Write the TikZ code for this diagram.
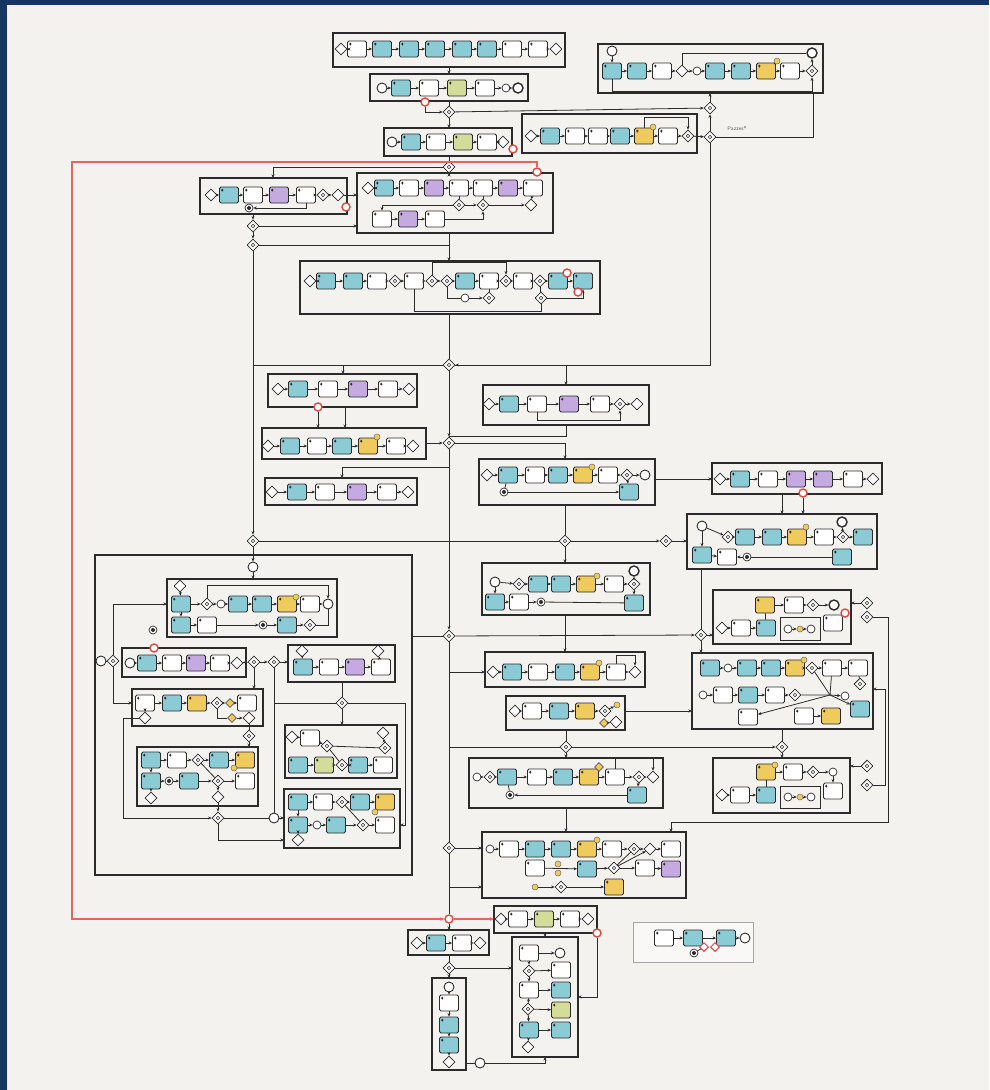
\documentclass[tikz,border=0pt]{standalone}
\usepackage{tikz}
\usetikzlibrary{shapes.geometric,arrows.meta}
\definecolor{ink}{HTML}{2B2B2B}
\definecolor{paper}{HTML}{F3F2EE}
\definecolor{frame}{HTML}{163562}
\definecolor{bteal}{HTML}{8BCBD5}
\definecolor{bpurple}{HTML}{C5AAE2}
\definecolor{byellow}{HTML}{EFCA5C}
\definecolor{bgreen}{HTML}{D4DC9A}
\definecolor{evred}{HTML}{E0463F}
\definecolor{redflow}{HTML}{E2665D}

% pool box from its corners
\newcommand{\pool}[6][pool]{%
  \node[#1, minimum width={#5pt-#3pt}, minimum height={#6pt-#4pt}] (#2) at ({(#3+#5)/2},{(#4+#6)/2}) {};}
% row of flow objects, chained left to right
\newcommand{\flowrow}[3]{%
  \foreach \rx/\rs [count=\rk] in {#3} {%
    \node[\rs] (#1\rk) at (\rx,#2) {};
    \ifnum\rk>1 \pgfmathtruncatemacro\rj{\rk-1}\draw[seq] (#1\rj) -- (#1\rk);\fi}}

\begin{document}
\begin{tikzpicture}[x=1pt,y=-1pt,
  task/.style={draw=ink,line width=0.8pt,rounded corners=1.5pt,minimum width=19pt,minimum height=16pt,inner sep=0pt,
    path picture={\fill[ink] ([xshift=1.5pt,yshift=-1.5pt]path picture bounding box.north west) rectangle ++(2.5pt,-3pt);}},
  tw/.style={task,fill=white},
  tt/.style={task,fill=bteal},
  tp/.style={task,fill=bpurple},
  ty/.style={task,fill=byellow},
  tg/.style={task,fill=bgreen},
  gw/.style={diamond,draw=ink,fill=white,line width=0.8pt,minimum size=12pt,inner sep=0pt},
  gwm/.style={gw,path picture={\draw[ink,line width=0.6pt] (path picture bounding box.center) circle (1.8pt);}},
  gy/.style={diamond,draw=ink!80,fill=byellow,line width=0.6pt,minimum size=9pt,inner sep=0pt},
  gr/.style={diamond,draw=evred,fill=white,line width=1pt,minimum size=9pt,inner sep=0pt},
  ev/.style={circle,draw=ink,fill=white,line width=0.9pt,minimum size=10pt,inner sep=0pt},
  evi/.style={circle,draw=ink,fill=white,line width=0.7pt,minimum size=8pt,inner sep=0pt},
  eve/.style={ev,line width=1.4pt},
  evd/.style={evi,path picture={\fill[ink] (path picture bounding box.center) circle (2pt);}},
  evr/.style={circle,draw=evred,fill=white,line width=1.4pt,minimum size=8pt,inner sep=0pt},
  ey/.style={circle,draw=ink!70,fill=byellow,line width=0.5pt,minimum size=6pt,inner sep=0pt},
  pool/.style={draw=ink,line width=1.1pt,inner sep=0pt,outer sep=0pt},
  subpool/.style={draw=ink,line width=0.7pt,inner sep=0pt,outer sep=0pt},
  legendbox/.style={draw=black!35,line width=0.6pt,fill=white!50!paper,inner sep=0pt,outer sep=0pt},
  seq/.style={draw=ink,line width=0.8pt,-{Stealth[length=3.5pt,width=3pt]}},
  wire/.style={draw=ink,line width=0.8pt},
  redseq/.style={draw=redflow,line width=1.1pt,-{Stealth[length=4pt,width=3.5pt]}},
  lbl/.style={font=\sffamily\fontsize{5.5}{6}\selectfont,text=ink!75,inner sep=0.5pt}]
  \fill[frame] (0,0) rectangle (989,1090);
  \fill[paper] (7,5) rectangle (989,1090);
  \useasboundingbox (0,0) rectangle (989,1090);

  % pools
  \pool{pA}{333}{33}{565}{67}
  \pool{pB}{370}{74}{528}{101}
  \pool{pC}{598}{44}{823}{93}
  \pool{pD}{384}{128}{512}{156}
  \pool{pE}{522}{114}{697}{153}
  \pool{pF}{200}{178}{347}{214}
  \pool{pG}{357}{173}{553}{233}
  \pool{pH}{300}{261}{600}{314}
  \pool{pI}{268}{374}{417}{407}
  \pool{pJ}{483}{385}{649}{425}
  \pool{pK}{262}{428}{426}{459}
  \pool{pL}{479}{459}{655}{505}
  \pool{pM}{265}{478}{417}{505}
  \pool{pN}{712}{463}{882}{494}
  \pool{pO}{687}{514}{877}{569}
  \pool{pP}{95}{555}{412}{875}
  \pool{pP1}{167}{579}{337}{637}
  \pool{pP2}{122}{648}{246}{677}
  \pool{pP3}{288}{645}{395}{682}
  \pool{pP4}{132}{689}{263}{726}
  \pool{pP5}{285}{725}{397}{778}
  \pool{pP6}{137}{747}{258}{806}
  \pool{pP7}{284}{789}{400}{848}
  \pool{pQ}{482}{563}{650}{615}
  \pool{pR}{713}{590}{851}{644}
  \pool[subpool]{pR1}{780}{617}{820}{640}
  \pool{pS}{485}{652}{645}{687}
  \pool{pT}{692}{653}{873}{729}
  \pool{pU}{506}{696}{625}{730}
  \pool{pV}{469}{758}{663}{808}
  \pool{pW}{713}{758}{850}{813}
  \pool[subpool]{pW1}{780}{786}{820}{808}
  \pool{pX}{482}{832}{686}{898}
  \pool{pY}{494}{906}{597}{933}
  \pool{pZa}{408}{930}{489}{955}
  \pool{pZb}{432}{978}{466}{1070}
  \pool{pZc}{512}{937}{578}{1057}
  \pool[legendbox]{pLeg}{633}{922}{753}{962}

  % top pools
  \flowrow{a}{49}{341/gw,357/tw,382/tt,409/tt,435/tt,462/tt,487/tt,512/tw,538/tw,556/gw}
  \flowrow{b}{88}{382/ev,401/tt,429/tw,457/tg,485/tw,506/evi,518/eve}
  \node[evr] (bR) at (425,102) {};
  \flowrow{c}{71}{612/tt,637/tt,662/tw,682/gw,697/evi,715/tt,741/tt,766/ty,790/tw,812/gwm}
  \node[ev] (c0) at (612,51) {};
  \node[eve] (c11) at (812,53) {};
  \node[ey] at (777,61) {};
  \draw[seq] (c0) -- (c1);
  \draw[seq] (c10) -- (c11);
  \draw[wire] (c4) |- (c11);
  \draw[seq] (c1.south) -- ++(0,12) -| (c10.south);
  \flowrow{d}{142}{392/ev,411/tt,436/tw,463/tg,487/tw,503/gw}
  \node[evr] (dR) at (513,149) {};
  \flowrow{e}{136}{531/gw,550/tt,575/tw,598/tw,620/tt,644/ty,668/tw,688/gwm}
  \node[ey] at (653,127) {};
  \draw[seq] (e6.north) -- ++(0,-10) -| (e8.north);
  \node[lbl] (pzl) at (737,128) {Pazzes*};

  % trunk hubs
  \coordinate (tk) at (449,0);
  \node[gwm] (hA) at (449,112) {};
  \node[gwm] (hB) at (449,167) {};
  \node[gwm] (hD) at (449,365) {};
  \node[gwm] (hC) at (449,443) {};
  \node[gwm] (hF) at (449,636) {};
  \node[gwm] (hX) at (449,848) {};
  \node[evr] (hR) at (449,919) {};
  \node[gwm] (hZ) at (449,968) {};
  \node[gwm] (hC1) at (710,108) {};
  \node[gwm] (hE2) at (710,137) {};

  \draw[seq] (pA.south -| tk) -- (pB.north -| tk);
  \draw[wire] (pB.south -| tk) -- (hA);
  \draw[seq] (bR) |- (hA);
  \draw[seq] (hA) -- (pD.north -| tk);
  \draw[seq] (hA) -- (hC1);
  \draw[seq] (hC1) -- (pC.south -| hC1);
  \draw[wire] (pD.south -| tk) -- (hB);
  \draw[seq] (hB) -- (pG.north -| tk);
  \draw[seq] (pG.south -| tk) -- (pH.north -| tk);
  \draw[wire] (pH.south -| tk) -- (hD);
  \draw[seq] (e8) -- (hE2);
  \draw[seq] (hE2) -- (hC1);
  \draw[wire] (hE2) -| (pC.south -| 813,0);
  \draw[seq] (hE2) |- (hD);

  % red flow
  \node[evr] (gR2) at (537,172) {};
  \coordinate (rl1) at (72,162);
  \draw[redseq] (gR2) |- (rl1) |- (hR);
  \draw[redseq] (hR) -- (pY.west |- hR);

  % left column
  \coordinate (fIn) at (273,178);
  \draw[seq] (hB) -| (fIn);
  \flowrow{f}{195}{211/gw,229/tt,253/tw,279/tp,306/tw,323/gwm,338/gw}
  \node[evd] (f8) at (249,208) {};
  \draw[seq] (f5.south) |- (f8);
  \flowrow{g}{188}{368/gw,384/tt,409/tw,434/tp,459/tw,483/tw,508/tp,533/tw}
  \node[gwm] (g9) at (459,205) {};
  \node[gwm] (g10) at (483,205) {};
  \node[gw] (g11) at (531,205) {};
  \flowrow{gb}{219}{382/tw,408/tp,435/tw}
  \draw[wire] (g5) -- (g9);
  \draw[wire] (g6) -- (g10);
  \draw[seq] (g9) -- (g10);
  \draw[seq] (g10) -- (g11);
  \draw[seq] (g8) -- (g11);
  \draw[seq] (g9) -| (gb1);
  \draw[seq] (gb3) -| (g10);
  \node[evr] (gR1) at (346,207) {};
  \draw[seq] (f7) -- (f7 -| pG.west);
  \node[gwm] (lk1) at (253,226) {};
  \node[gwm] (lk2) at (253,245) {};
  \node[gwm] (lk3) at (253,541) {};
  \draw[seq] (pF.south -| lk1) -- (lk1);
  \draw[seq] (lk1) -- (pG.west |- lk1);
  \draw[seq] (lk1) -- (lk2);
  \draw[wire] (lk2) -- (lk2 -| tk);
  \draw[seq] (lk2) -- (lk3);

  % wide pool
  \flowrow{h}{281}{310/gw,326/tt,353/tt,377/tw,395/gwm,414/tw,432/gwm,447/gwm,465/tt,489/tw,506/gwm,523/tw,540/gwm,558/tt,583/tt}
  \node[evi] (h16) at (465,298) {};
  \node[gwm] (h17) at (489,298) {};
  \node[gwm] (h18) at (541,298) {};
  \draw[seq] (h7.north) -- ++(0,-12) -| (h11.north);
  \draw[wire] (h8) |- (h16);
  \draw[seq] (h16) -- (h17);
  \draw[wire] (h17) -- (h10);
  \draw[wire] (h13) -- (h18);
  \draw[seq] (h18) -| (h15.south);
  \draw[wire] (h6.south) -- ++(0,22) -| (h18.south);
  \node[evr] (hR1) at (567,273) {};
  \node[evr] (hR2) at (578,292) {};

  % middle rows
  \coordinate (iIn) at (343,374);
  \coordinate (jIn) at (566,385);
  \coordinate (lIn) at (565,459);
  \coordinate (kIn) at (345,428);
  \coordinate (mIn) at (342,478);
  \coordinate (mTurn) at (449,467);
  \draw[seq] (hD) -| (iIn);
  \draw[wire] (hD) -- (hD -| lk2);
  \draw[seq] (hD) -| (jIn);
  \flowrow{i}{389}{278/gw,298/tt,328/tw,358/tp,388/tw,409/gw}
  \node[evr] (iR) at (318,407) {};
  \draw[seq] (iR) -- (iR |- pK.north);
  \draw[seq] (pI.south -| kIn) -- (kIn);
  \flowrow{j}{404}{489/gw,509/tt,537/tw,569/tp,600/tw,620/gwm,637/gw}
  \draw[seq] (j3.south) -- ++(0,8) -| (j6.south);
  \draw[wire] (pJ.south -| jIn) |- (hC.north);
  \draw[seq] (hD) -- (hC);
  \flowrow{k}{446}{268/gw,290/tt,317/tw,342/tt,368/ty,396/tw,413/gw}
  \node[ey] at (377,437) {};
  \draw[seq] (pK.east |- hC) -- (hC);
  \draw[seq] (hC) -| (lIn);
  \draw[seq] (mTurn) -| (mIn);
  \flowrow{m}{492}{272/gw,297/tt,325/tw,357/tp,387/tw,408/gw}
  \flowrow{l}{475}{487/gw,508/tt,535/tw,558/tt,583/ty,608/tw,627/gwm,645/ev}
  \node[ey] at (592,467) {};
  \node[tt] (l9) at (629,492) {};
  \node[evd] (l10) at (504,492) {};
  \draw[seq] (l7) -- (l9);
  \draw[seq] (l10) -- (l9);
  \draw[wire] (l10) -- (l2);
  \draw[seq] (hC) -- (hF);

  % right column
  \flowrow{n}{479}{720/gw,740/tt,768/tw,796/tp,823/tp,853/tw,873/gw}
  \node[evr] (nR) at (803,493) {};
  \draw[seq] (pL.east |- n1) -- (pN.west |- n1);
  \coordinate (oIn) at (782,514);
  \draw[seq] (oIn |- pN.south) -- (oIn);
  \draw[seq] (nR) -- (nR |- pO.north);
  \flowrow{o}{537}{728/gwm,745/tt,772/tt,797/ty,824/tw,843/gwm,863/tt}
  \node[ev] (o0) at (702,526) {};
  \node[tt] (o8) at (702,555) {};
  \node[tw] (o9) at (727,557) {};
  \node[evd] (o10) at (747,557) {};
  \node[eve] (o11) at (842,522) {};
  \node[tt] (o12) at (842,557) {};
  \node[ey] at (806,527) {};
  \draw[seq] (o0) -- (o8);
  \draw[seq] (o8) -- (o9);
  \draw[seq] (o10) -- (o9);
  \draw[wire] (o10) -- (o12);
  \draw[seq] (o6) -- (o11);
  \draw[seq] (o0) -- (o1);

  % hub line under the rows
  \node[gwm] (hG) at (565,541) {};
  \node[gwm] (hL3) at (666,541) {};
  \draw[wire] (lk3) -- (hG);
  \draw[wire] (pL.south -| hG) -- (hG);
  \draw[seq] (hG) -- (hL3);
  \draw[seq] (hL3) -- (pO.west |- hL3);
  \node[ev] (p0) at (253,567) {};
  \draw[seq] (lk3) -- (p0);

  % center right pools
  \draw[seq] (hG) -- (pQ.north -| hG);
  \flowrow{q}{584}{519/gwm,538/tt,561/tt,586/ty,614/tw,634/gwm}
  \node[ev] (q7) at (495,582) {};
  \node[tt] (q8) at (495,602) {};
  \node[tw] (q9) at (519,602) {};
  \node[evd] (q10) at (541,602) {};
  \node[tt] (q11) at (634,603) {};
  \node[eve] (q12) at (634,571) {};
  \node[ey] at (597,576) {};
  \draw[seq] (q7) -- (q8);
  \draw[seq] (q8) -- (q9);
  \draw[seq] (q9) -- (q10);
  \draw[wire] (q10) -- (q11);
  \draw[seq] (q6) -- (q11);
  \draw[seq] (q6) -- (q12);
  \draw[seq] (q7) -- (q1);

  \node[gwm] (hT) at (701,635) {};
  \draw[wire] (pP.east |- hF) -- (hF);
  \draw[seq] (hF) -- (hT);
  \draw[wire] (pO.south -| hT) -- (hT);
  \draw[seq] (hT) -- (pT.north -| hT);
  \draw[seq] (hT) -- (pR.west |- hT);
  \draw[seq] (pQ.south -| hG) -- (pS.north -| hG);

  \flowrow{s}{672}{493/gw,512/tt,538/tw,565/tt,590/ty,616/tw,635/gw}
  \node[ey] at (599,663) {};
  \draw[seq] (s6.north) -- ++(0,-8) -| (s7.north);
  \draw[seq] (s1 -| tk) -- (pS.west |- s1);

  \flowrow{u}{711}{515/gw,532/tw,559/tt,585/ty,605/gwm}
  \node[ey] (u6) at (617,705) {};
  \node[gy] (u7) at (604,723) {};
  \node[gw] (u8) at (616,722) {};
  \draw[seq] (u5) -- (u6);
  \draw[seq] (u7) -- (u8);
  \draw[seq] (pU.east |- u1) -- (pT.west |- u1);

  \node[gwm] (hV) at (566,747) {};
  \node[gwm] (hW) at (782,747) {};
  \draw[wire] (pU.south -| hV) -- (hV);
  \draw[seq] (hV) -- (pV.north -| hV);
  \draw[wire] (hV -| tk) -- (hV);
  \draw[seq] (hV) -- (hW);
  \draw[wire] (pT.south -| hW) -- (hW);
  \draw[seq] (hW) -- (pW.north -| hW);

  \flowrow{v}{777}{477/evi,490/gwm,507/tt,537/tw,563/tt,589/ty,615/tw,639/gwm,653/gw}
  \node[gy] at (599,767) {};
  \node[tt] (v10) at (637,795) {};
  \node[evd] (v11) at (510,795) {};
  \draw[seq] (v8) -- (v10);
  \draw[seq] (v10) -- (v11);
  \draw[wire] (v11) -- (v3);
  \draw[seq] (v7.north) -- ++(0,-10) -| (v9.north);
  \draw[seq] (pV.south -| hV) -- (pX.north -| hV);

  \flowrow{x}{849}{490/evi,509/tw,535/tt,561/tt,587/ty,612/tw,634/gwm,650/gw,671/tw}
  \node[ey] at (597,840) {};
  \node[tw] (x10) at (535,868) {};
  \node[ey] (x11) at (558,864) {};
  \node[ey] (x12) at (558,873) {};
  \node[tt] (x13) at (587,869) {};
  \node[gwm] (x14) at (614,868) {};
  \node[tw] (x15) at (645,868) {};
  \node[tp] (x16) at (671,869) {};
  \node[ey] (x17) at (535,887) {};
  \node[gwm] (x18) at (561,887) {};
  \node[ty] (x19) at (614,887) {};
  \draw[seq] (x10) -- (x13);
  \draw[seq] (x13) -- (x14);
  \draw[seq] (x14) -- (x15);
  \draw[seq] (x15) -- (x16);
  \draw[wire] (x7) -- (x14);
  \draw[seq] (x14) -- (x8);
  \draw[seq] (x17) -- (x18);
  \draw[seq] (x18) -- (x19);
  \draw[seq] (hX) -- (pX.west |- hX);
  \draw[seq] (x18 -| tk) -- (pX.west |- x18);
  \draw[wire] (hF) -- (hX);
  \draw[wire] (hX) -- (hR);

  % far right pools
  \flowrow{r}{605}{765/ty,794/tw,813/gwm,834/eve}
  \node[tw] (r5) at (833,623) {};
  \node[evr] (r6) at (845,613) {};
  \flowrow{rb}{628}{722/gw,741/tw,766/tt}
  \flowrow{rc}{629}{788/evi,800/ey,811/evi}
  \draw[wire] (r1) -- (rb3);
  \node[gwm] (rg1) at (867,603) {};
  \node[gwm] (rg2) at (867,617) {};
  \draw[seq] (rg1) -- (pR.east |- rg1);
  \coordinate (rbR) at (888,822);
  \draw[seq] (rg2) -| (rbR) -| (x9.north |- pX.north);

  \flowrow{t}{668}{710/tt,728/evi,747/tt,771/tt,795/ty,812/gwm,832/tw,858/tw}
  \node[ey] at (804,660) {};
  \flowrow{tb}{695}{703/evi,723/tw,748/tt,775/tw,795/gwm}
  \coordinate (tX) at (830,695);
  \node[evi] (tb6) at (845,696) {};
  \node[gwm] (tb7) at (860,684) {};
  \node[tt] (tb8) at (860,709) {};
  \node[tw] (tc1) at (748,717) {};
  \node[tw] (tc2) at (804,716) {};
  \node[ty] (tc3) at (831,716) {};
  \draw[wire] (t6) -- (tX);
  \draw[wire] (t7) -- (tX);
  \draw[seq] (tb5) -- (tX) -- (tb6);
  \draw[seq] (tX) -- (tc1);
  \draw[seq] (tX) -- (tb8);
  \draw[seq] (tc2) -- (tc3);
  \draw[wire] (tb7) -- (t8);
  \coordinate (tRin) at (873,689);

  \flowrow{w}{772}{766/ty,793/tw,813/gwm,833/evi}
  \node[tw] (w5) at (833,791) {};
  \node[ey] at (775,765) {};
  \draw[seq] (w4) -- (w5);
  \flowrow{wb}{795}{722/gw,740/tw,766/tt}
  \flowrow{wc}{797}{788/evi,800/ey,811/evi}
  \draw[wire] (w1) -- (wb3);
  \node[gwm] (wg1) at (867,766) {};
  \node[gwm] (wg2) at (867,785) {};
  \draw[seq] (wg1) -- (pW.east |- wg1);
  \draw[seq] (wg2.east) -- ++(12,0) |- (tRin);

  % big pool on the left
  \draw[seq] (p0) -- (p0 |- pP1.north);
  \node[gw] (pa0) at (180,586) {};
  \node[tt] (pa1) at (181,604) {};
  \node[tt] (pa2) at (181,625) {};
  \flowrow{pb}{604}{207/gwm,221/evi,238/tt,262/tt,287/ty,310/tw,328/ev}
  \flowrow{pc}{625}{207/tw,263/evd,287/tt,310/gwm}
  \node[ey] at (296,597) {};
  \draw[seq] (pa0) -- (pa1);
  \draw[seq] (pa1) -- (pa2);
  \draw[seq] (pa1) -- (pb1);
  \draw[seq] (pa2) -- (pc1);
  \draw[wire] (pc4) -| (pb7);
  \draw[seq] (pb1.north) -- ++(0,-12) -| (pb7.north);
  \node[evd] (pd1) at (153,630) {};
  \node[evr] (pd2) at (154,648) {};
  \node[ev] (pe1) at (101,661) {};
  \node[gwm] (pe2) at (113,661) {};
  \draw[wire] (pe1) -- (pe2);
  \draw[seq] (pe2) |- (pa1 -| pP1.west);

  \flowrow{pg}{663}{130/ev,147/tt,172/tw,196/tp,220/tw,237/gw}
  \node[gwm] (ph1) at (254,662) {};
  \node[gwm] (ph2) at (274,662) {};
  \draw[seq] (pg6) -- (ph1);
  \draw[seq] (ph1) -- (ph2);
  \draw[seq] (ph2) -- (pP3.west |- ph2);
  \draw[seq] (ph1) -- (ph1 |- pP4.north);

  \node[gw] (pi0) at (302,651) {};
  \node[gw] (pi9) at (378,651) {};
  \flowrow{pi}{667}{303/tt,329/tw,355/tp,381/tw}
  \draw[seq] (pi0) -- (pi1);
  \draw[seq] (pi4) -- (pi9);
  \node[gwm] (pj) at (342,703) {};
  \draw[wire] (pP3.south -| pj) -- (pj);
  \draw[seq] (pj) -- (pP5.north -| pj);

  \flowrow{pf}{703}{145/tw,172/tt,197/ty,217/gwm,230/gy,247/tw}
  \node[gw] (pf7) at (145,718) {};
  \node[gy] (pf8) at (232,718) {};
  \node[gw] (pf9) at (249,718) {};
  \draw[seq] (pe2) |- (pP4.west |- pf1);
  \draw[wire] (pf4) |- (pf8);
  \draw[seq] (pf8) -- (pf9);
  \draw[seq] (pf1) -- (pf7);
  \node[gwm] (pl) at (249,736) {};
  \draw[wire] (pf9) -- (pl);
  \draw[seq] (pl) -- (pl |- pP6.north);

  \flowrow{pn}{760}{151/tt,177/tw,198/gwm,219/tt,245/ty}
  \flowrow{po}{781}{151/tt,169/evd,189/tt,218/gwm,245/tw}
  \node[ey] at (234,768) {};
  \node[gw] (pn6) at (151,798) {};
  \node[gw] (pn7) at (218,797) {};
  \draw[seq] (pn1) -- (po1);
  \draw[seq] (po1) -- (pn6);
  \draw[seq] (po4) -- (pn7);
  \draw[wire] (pn3) -- (po4);

  \coordinate (pm0) at (123,818);
  \node[gwm] (pm1) at (218,818) {};
  \node[ev] (pm2) at (274,818) {};
  \draw[seq] (pf7.west) -| (pm0) -- (pm1);
  \draw[seq] (pn7) -- (pm1);
  \draw[wire] (pm1) -- (pm2);
  \draw[seq] (pm2) -- (pP7.west |- pm2);
  \draw[wire] (ph2) -- (pm2);
  \draw[wire] (ph2 |- pj) -- (pj);
  \coordinate (pk1) at (405,703);
  \draw[wire] (pj) -- (pk1);

  \node[gw] (ps0) at (292,737) {};
  \node[tw] (ps1) at (310,738) {};
  \node[gwm] (ps2) at (327,746) {};
  \node[gw] (ps3) at (383,733) {};
  \node[gwm] (ps4) at (385,748) {};
  \flowrow{pt}{765}{298/tt,324/tg,342/gwm,358/tt,383/tw}
  \draw[seq] (ps0) -- (ps1);
  \draw[seq] (ps1) -- (ps2);
  \draw[wire] (ps2) -- (ps4);
  \draw[seq] (ps4) -- (ps3);
  \draw[wire] (pt3) -- (ps2);

  \flowrow{pu}{802}{298/tt,323/tw,342/gwm,360/tt,385/ty}
  \flowrow{pv}{825}{298/tt,317/evi,336/tt,363/gwm,385/tw}
  \node[ey] at (375,812) {};
  \node[gw] (pr9) at (298,840) {};
  \draw[seq] (pu1) -- (pv1);
  \draw[seq] (pv1) -- (pr9);
  \draw[wire] (pu3) -- (pv4);
  \draw[seq] (pm1) |- (pP7.west |- pr9);
  \draw[seq] (pk1) |- (pP7.east |- pv5);

  % bottom pools
  \flowrow{y}{919}{501/gw,518/tw,544/tg,570/tw,588/gw}
  \node[evr] (yR) at (597,933) {};
  \coordinate (zcTop) at (545,937);
  \coordinate (zcIn) at (578,997);
  \draw[seq] (pY.south -| zcTop) -- (zcTop);
  \draw[seq] (yR) |- (zcIn);

  \draw[seq] (hR) -- (pZa.north -| tk);
  \flowrow{za}{943}{417/gw,436/tt,462/tw,480/gw}
  \draw[wire] (pZa.south -| tk) -- (hZ);
  \draw[seq] (hZ) -- (pZc.west |- hZ);
  \draw[seq] (hZ) -- (pZb.north -| tk);

  \node[ev] (zb1) at (449,987) {};
  \node[tw] (zb2) at (449,1003) {};
  \node[tt] (zb3) at (449,1025) {};
  \node[tt] (zb4) at (449,1045) {};
  \node[gw] (zb5) at (449,1062) {};
  \draw[seq] (zb1) -- (zb2);
  \draw[seq] (zb2) -- (zb3);
  \draw[seq] (zb3) -- (zb4);
  \draw[seq] (zb4) -- (zb5);
  \node[ev] (zbE) at (480,1063) {};
  \draw[wire] (pZb.east |- zbE) -- (zbE);
  \draw[seq] (zbE) -| (pZc.south -| zcTop);

  \node[tw] (zc1) at (529,953) {};
  \node[ev] (zc2) at (560,953) {};
  \node[gwm] (zc3) at (529,971) {};
  \node[tw] (zc4) at (561,970) {};
  \node[tw] (zc5) at (529,990) {};
  \node[tt] (zc6) at (561,990) {};
  \node[gwm] (zc7) at (528,1009) {};
  \node[tg] (zc8) at (561,1010) {};
  \node[tt] (zc9) at (529,1030) {};
  \node[tt] (zc10) at (561,1030) {};
  \node[gw] (zc11) at (528,1047) {};
  \draw[seq] (zc1) -- (zc2);
  \draw[seq] (zc1) -- (zc3);
  \draw[seq] (zc3) -- (zc4);
  \draw[seq] (zc3) -- (zc5);
  \draw[seq] (zc5) -- (zc6);
  \draw[seq] (zc5) -- (zc7);
  \draw[seq] (zc7) -- (zc8);
  \draw[seq] (zc7) -- (zc9);
  \draw[seq] (zc9) -- (zc10);
  \draw[seq] (zc9) -- (zc11);

  % legend
  \flowrow{lg}{938}{664/tw,693/tt,726/tt,745/ev}
  \node[gr] (lg5) at (704,947) {};
  \node[gr] (lg6) at (715,947) {};
  \node[evd] (lg7) at (694,953) {};
  \draw[wire] (lg7) -- (lg5);
\end{tikzpicture}
\end{document}
